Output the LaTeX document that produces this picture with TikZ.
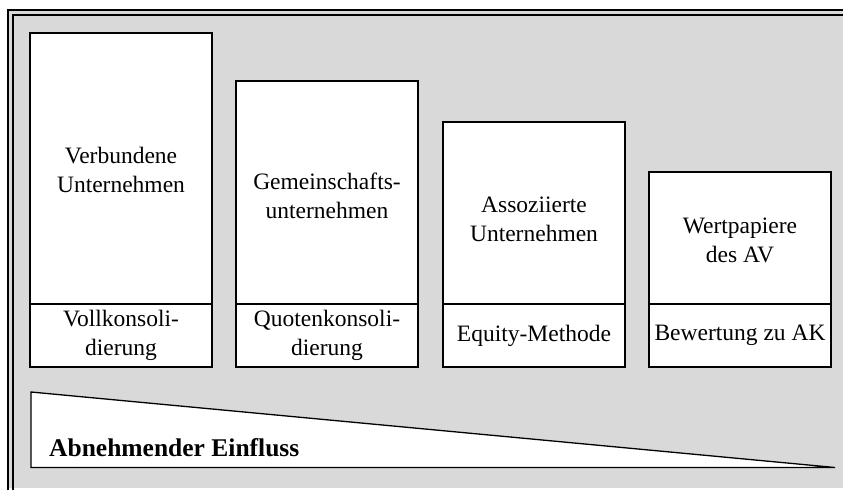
\documentclass[tikz,border=0pt]{standalone}
\usepackage{fontspec}
\setmainfont{Liberation Serif}
\definecolor{bg}{HTML}{D9D9D9}
\begin{document}
\begin{tikzpicture}[x=1pt,y=-1pt,
  box/.style={draw, line width=1.3pt, fill=white, minimum width=182pt, inner sep=0pt, outer sep=0pt,
    align=center, font=\fontsize{23.5}{29}\selectfont, anchor=north west},
  txt/.style={inner sep=0pt, align=center, font=\fontsize{23.5}{29}\selectfont},
  frameline/.style={line width=1.3pt}
]
\useasboundingbox (0,0) rectangle (843,490);
\fill[bg] (8,10) rectangle (843,488);
\draw[frameline] (8,490) -- (8,10) -- (843,10);
\draw[frameline] (13,490) -- (13,15) -- (843,15);
% boxes
\node[box, minimum height=271pt] (u1) at (30,33) {};
\node[box, minimum height=63pt] (l1) at (30,304) {Vollkonsoli-\\dierung};
\node[box, minimum height=223pt] (u2) at (236,81) {};
\node[box, minimum height=63pt] (l2) at (236,304) {Quotenkonsoli-\\dierung};
\node[box, minimum height=182pt] (u3) at (443,122) {};
\node[box, minimum height=63pt] (l3) at (443,304) {Equity-Methode};
\node[box, minimum height=132pt] (u4) at (649,172) {};
\node[box, minimum height=63pt] (l4) at (649,304) {Bewertung zu AK};
\node[txt] (t1) at ([yshift=-1pt]u1.center) {Verbundene\\Unternehmen};
\node[txt] (t2) at ([yshift=-3pt]u2.center) {Gemeinschafts-\\unternehmen};
\node[txt] (t3) at ([yshift=-6pt]u3.center) {Assoziierte\\Unternehmen};
\node[txt] (t4) at ([yshift=-2pt]u4.center) {Wertpapiere\\des AV};
% wedge
\draw[line width=1.3pt, fill=white] (31,392) -- (835,467.5) -- (31,467.5) -- cycle;
\node[anchor=base west, inner sep=0pt, font=\bfseries\fontsize{25.5}{30}\selectfont] (t) at (49,456) {Abnehmender Einfluss};
\end{tikzpicture}
\end{document}
